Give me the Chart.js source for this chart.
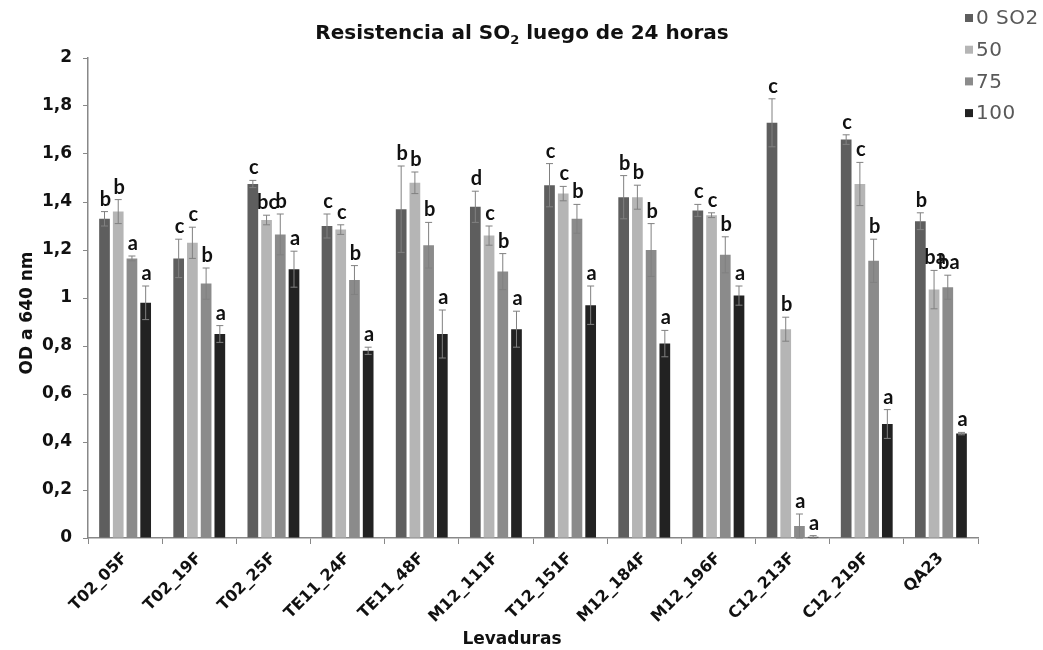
<!DOCTYPE html>
<html>
<head>
<meta charset="utf-8">
<script src="https://cdn.jsdelivr.net/npm/chart.js@4"></script>
<style>
  html, body { margin: 0; padding: 0; background: #fff; }
  #wrap { width: 1043px; height: 650px; }
</style>
</head>
<body>
<div id="wrap"><canvas id="chart" width="1043" height="650"></canvas></div>
<script>
const cepas = ["T02_05F", "T02_19F", "T02_25F", "TE11_24F", "TE11_48F", "M12_111F",
  "T12_151F", "M12_184F", "M12_196F", "C12_213F", "C12_219F", "QA23"];

const series = ["0 SO2", "50", "75", "100"];
const colores = ["#5e5e5e", "#b5b5b5", "#8b8b8b", "#222222"];

const so2_0   = [1.33, 1.165, 1.475, 1.30, 1.37, 1.38, 1.47, 1.42, 1.365, 1.73, 1.66, 1.32];
const so2_50  = [1.36, 1.23, 1.325, 1.285, 1.48, 1.26, 1.435, 1.42, 1.345, 0.87, 1.475, 1.035];
const so2_75  = [1.165, 1.06, 1.265, 1.075, 1.22, 1.11, 1.33, 1.20, 1.18, 0.05, 1.155, 1.045];
const so2_100 = [0.98, 0.85, 1.12, 0.78, 0.85, 0.87, 0.97, 0.81, 1.01, 0.005, 0.475, 0.435];

const err_0   = [0.03, 0.08, 0.015, 0.05, 0.18, 0.065, 0.09, 0.09, 0.025, 0.10, 0.02, 0.035];
const err_50  = [0.05, 0.065, 0.02, 0.02, 0.045, 0.04, 0.03, 0.05, 0.01, 0.05, 0.09, 0.08];
const err_75  = [0.01, 0.065, 0.085, 0.06, 0.095, 0.075, 0.06, 0.11, 0.075, 0.05, 0.09, 0.05];
const err_100 = [0.07, 0.035, 0.075, 0.015, 0.10, 0.075, 0.08, 0.055, 0.04, 0.005, 0.06, 0.005];

const let_0   = ["b", "c", "c", "c", "b", "d", "c", "b", "c", "c", "c", "b"];
const let_50  = ["b", "c", "bc", "c", "b", "c", "c", "b", "c", "b", "c", "ba"];
const let_75  = ["a", "b", "b", "b", "b", "b", "b", "b", "b", "a", "b", "ba"];
const let_100 = ["a", "a", "a", "a", "a", "a", "a", "a", "a", "a", "a", "a"];

const valores = [so2_0, so2_50, so2_75, so2_100];
const errores = [err_0, err_50, err_75, err_100];
const letras = [let_0, let_50, let_75, let_100];

const yTicks = [0, 0.2, 0.4, 0.6, 0.8, 1, 1.2, 1.4, 1.6, 1.8, 2];

const fuente = "'DejaVu Sans', 'Liberation Sans', Arial, sans-serif";

// barras de error y letras de significancia
const extras = {
  id: "extras",
  afterDatasetsDraw(chart) {
    const ctx = chart.ctx;
    const y = chart.scales.y;
    ctx.save();
    chart.data.datasets.forEach((ds, i) => {
      const meta = chart.getDatasetMeta(i);
      meta.data.forEach((bar, j) => {
        const v = valores[i][j];
        const e = errores[i][j];
        const top = y.getPixelForValue(v + e);
        const bot = y.getPixelForValue(Math.max(0, v - e));
        ctx.strokeStyle = "#808080";
        ctx.lineWidth = 1;
        ctx.beginPath();
        ctx.moveTo(bar.x, top);
        ctx.lineTo(bar.x, bot);
        ctx.moveTo(bar.x - 3.5, top);
        ctx.lineTo(bar.x + 3.5, top);
        ctx.moveTo(bar.x - 3.5, bot);
        ctx.lineTo(bar.x + 3.5, bot);
        ctx.stroke();
        ctx.fillStyle = "#111";
        ctx.font = "bold 20px Lato, 'Open Sans', sans-serif";
        ctx.textAlign = "center";
        ctx.textBaseline = "alphabetic";
        ctx.fillText(letras[i][j], bar.x + 1, top - 6);
      });
    });
    ctx.restore();
  }
};

// titulos y leyenda
const textos = {
  id: "textos",
  afterDraw(chart) {
    const ctx = chart.ctx;
    ctx.save();
    ctx.fillStyle = "#111";
    ctx.textBaseline = "alphabetic";

    // titulo con subindice
    const t1 = "Resistencia al SO";
    const t2 = "2";
    const t3 = " luego de 24 horas";
    const fT = "bold 20px " + fuente;
    const fS = "bold 13px " + fuente;
    ctx.font = fT;
    const w1 = ctx.measureText(t1).width;
    const w3 = ctx.measureText(t3).width;
    ctx.font = fS;
    const w2 = ctx.measureText(t2).width;
    let x = 522 - (w1 + w2 + w3) / 2;
    ctx.textAlign = "left";
    ctx.font = fT;
    ctx.fillText(t1, x, 39);
    ctx.font = fS;
    ctx.fillText(t2, x + w1, 44);
    ctx.font = fT;
    ctx.fillText(t3, x + w1 + w2, 39);

    // titulo eje x
    ctx.textAlign = "center";
    ctx.font = "bold 17px " + fuente;
    ctx.fillText("Levaduras", 512, 644);

    // titulo eje y
    ctx.save();
    ctx.translate(28, 313);
    ctx.rotate(-Math.PI / 2);
    ctx.textBaseline = "middle";
    ctx.font = "bold 17px " + fuente;
    ctx.fillText("OD a 640 nm", 0, 0);
    ctx.restore();

    // leyenda
    ctx.font = "20px " + fuente;
    ctx.letterSpacing = "0.5px";
    ctx.textBaseline = "middle";
    ctx.textAlign = "left";
    series.forEach((s, i) => {
      const yy = 18 + i * 31.7;
      ctx.fillStyle = colores[i];
      ctx.fillRect(965, yy - 4, 8, 8);
      ctx.fillStyle = "#595959";
      ctx.fillText(s, 976, yy + 1);
    });
    ctx.restore();
  }
};

new Chart(document.getElementById("chart"), {
  type: "bar",
  data: {
    labels: cepas,
    datasets: series.map((s, i) => ({
      label: s,
      data: valores[i],
      backgroundColor: colores[i],
      categoryPercentage: 0.74,
      barPercentage: 0.78
    }))
  },
  options: {
    responsive: false,
    animation: false,
    layout: { padding: { left: 0, right: 65, top: 58, bottom: 0 } },
    plugins: {
      legend: { display: false },
      tooltip: { enabled: false },
      title: { display: false }
    },
    scales: {
      x: {
        offset: true,
        grid: { display: true, drawOnChartArea: false, offset: true, tickLength: 6, color: "#888" },
        border: { color: "#888", width: 1.5 },
        ticks: {
          color: "#111",
          maxRotation: 45,
          minRotation: 45,
          padding: 5,
          font: { family: fuente, size: 16, weight: "bold" }
        },
        afterFit(scale) { scale.height = 112; }
      },
      y: {
        min: 0,
        max: 2,
        afterBuildTicks(scale) { scale.ticks = yTicks.map(v => ({ value: v })); },
        grid: { display: true, drawOnChartArea: false, tickLength: 5, color: "#888" },
        border: { color: "#888", width: 1.5 },
        ticks: {
          color: "#111",
          padding: 11,
          font: { family: fuente, size: 17, weight: "bold" },
          callback: v => String(Math.round(v * 10) / 10).replace(".", ",")
        },
        afterFit(scale) { scale.width = 88; }
      }
    }
  },
  plugins: [extras, textos]
});
</script>
</body>
</html>
